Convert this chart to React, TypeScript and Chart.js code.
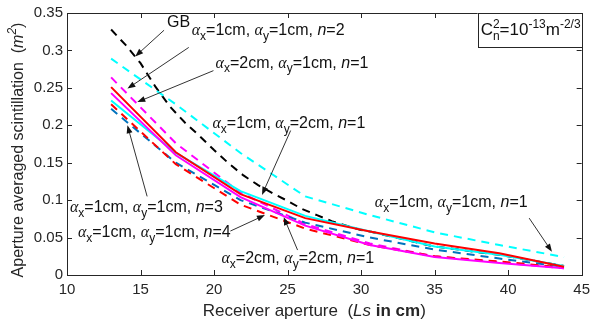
import React, { useEffect, useRef } from 'react';
import { Chart, registerables } from 'chart.js';

Chart.register(...registerables);

// Receiver aperture Ls (cm)
const lsSim = [13, 17.4, 21.8, 26.2, 30.6, 35, 39.4, 43.8];
const lsGB = [13, 14, 15, 16, 17, 18, 19, 20, 21, 22, 23, 24, 25, 26, 27, 28, 29, 30, 30.6, 35, 39.4, 43.8];

// Aperture averaged scintillation values
const gbVals = [0.328, 0.307, 0.283, 0.252, 0.225, 0.204, 0.186, 0.167, 0.149, 0.133, 0.12, 0.109, 0.099, 0.088, 0.08, 0.072, 0.066, 0.06, 0.058, 0.038, 0.027, 0.012];
const a1a1n1 = [0.289, 0.228, 0.163, 0.105, 0.08, 0.057, 0.04, 0.024];
const a1a1n2 = [0.264, 0.176, 0.11, 0.068, 0.042, 0.025, 0.017, 0.009];
const a2a1n1 = [0.251, 0.164, 0.108, 0.076, 0.058, 0.042, 0.029, 0.011];
const a1a2n1 = [0.233, 0.163, 0.112, 0.079, 0.058, 0.038, 0.027, 0.012];
const a2a2n1 = [0.243, 0.16, 0.104, 0.066, 0.04, 0.024, 0.016, 0.009];
const a1a1n3 = [0.222, 0.15, 0.1, 0.07, 0.05, 0.034, 0.022, 0.011];
const a1a1n4 = [0.228, 0.148, 0.094, 0.062, 0.04, 0.025, 0.018, 0.01];

const xTicks = [10, 15, 20, 25, 30, 35, 40, 45];
const yTicks = [0, 0.05, 0.1, 0.15, 0.2, 0.25, 0.3, 0.35];

const FONT = '"Liberation Sans", Arial, sans-serif';
const INK = '#262626';

type Run = { t: string; k?: string; t2?: string };

const lab = (ax: string, ay: string, n: string): Run[] => [
  { t: 'α', k: 'g' }, { t: 'x', k: 'sub' }, { t: '=' + ax + 'cm, ' },
  { t: 'α', k: 'g' }, { t: 'y', k: 'sub' }, { t: '=' + ay + 'cm, ' },
  { t: 'n', k: 'i' }, { t: '=' + n },
];

// annotation text anchors (left, baseline) and arrows, in data units
const notes: { x: number; y: number; runs: Run[]; ax?: number[] }[] = [
  { x: 16.8, y: 0.331, runs: [{ t: 'GB' }], ax: [16.6, 0.327, 14.64, 0.292] },
  { x: 18.48, y: 0.32, runs: lab('1', '1', '2'), ax: [18.28, 0.304, 14.11, 0.249] },
  { x: 20.1, y: 0.277, runs: lab('2', '1', '1'), ax: [19.96, 0.273, 14.78, 0.231] },
  { x: 19.89, y: 0.196, runs: lab('1', '2', '1'), ax: [25.21, 0.193, 23.26, 0.107] },
  { x: 30.93, y: 0.091, runs: lab('1', '1', '1'), ax: [41.43, 0.076, 42.98, 0.031] },
  { x: 10.2, y: 0.084, runs: lab('1', '1', '3'), ax: [15.45, 0.105, 14.11, 0.2] },
  { x: 10.74, y: 0.0507, runs: lab('1', '1', '4'), ax: [21.11, 0.0587, 23.46, 0.08] },
  { x: 20.5, y: 0.016, runs: lab('2', '2', '1'), ax: [25.68, 0.0333, 24.74, 0.0773] },
];

function fontFor(k: string | undefined, size: number) {
  const sub = Math.round(size * 0.72);
  switch (k) {
    case 'g': return { font: `italic ${size}px "Liberation Serif", serif`, dy: 0 };
    case 'i': return { font: `italic ${size}px ${FONT}`, dy: 0 };
    case 'b': return { font: `bold ${size}px ${FONT}`, dy: 0 };
    case 'sub': return { font: `${sub}px ${FONT}`, dy: size * 0.3 };
    case 'sup': return { font: `${sub}px ${FONT}`, dy: -size * 0.42 };
    case 'isup': return { font: `italic ${sub}px ${FONT}`, dy: -size * 0.42 };
    default: return { font: `${size}px ${FONT}`, dy: 0 };
  }
}

function runsWidth(ctx: CanvasRenderingContext2D, runs: Run[], size: number) {
  let w = 0;
  for (const r of runs) {
    if (r.k === 'stack') {
      ctx.font = `${Math.round(size * 0.72)}px ${FONT}`;
      w += Math.max(ctx.measureText(r.t).width, ctx.measureText(r.t2 || '').width);
    } else {
      ctx.font = fontFor(r.k, size).font;
      w += ctx.measureText(r.t).width;
    }
  }
  return w;
}

function drawRuns(ctx: CanvasRenderingContext2D, x: number, y: number, runs: Run[], size: number) {
  let cx = x;
  ctx.textBaseline = 'alphabetic';
  ctx.textAlign = 'left';
  for (const r of runs) {
    if (r.k === 'stack') {
      ctx.font = `${Math.round(size * 0.72)}px ${FONT}`;
      ctx.fillText(r.t, cx, y - size * 0.42);
      ctx.fillText(r.t2 || '', cx, y + size * 0.3);
      cx += Math.max(ctx.measureText(r.t).width, ctx.measureText(r.t2 || '').width);
    } else {
      const f = fontFor(r.k, size);
      ctx.font = f.font;
      ctx.fillText(r.t, cx, y + f.dy);
      cx += ctx.measureText(r.t).width;
    }
  }
}

function arrow(ctx: CanvasRenderingContext2D, x1: number, y1: number, x2: number, y2: number) {
  const a = Math.atan2(y2 - y1, x2 - x1);
  const L = 8, H = 3;
  ctx.strokeStyle = '#333';
  ctx.lineWidth = 1;
  ctx.setLineDash([]);
  ctx.beginPath();
  ctx.moveTo(x1, y1);
  ctx.lineTo(x2 - Math.cos(a) * L * 0.6, y2 - Math.sin(a) * L * 0.6);
  ctx.stroke();
  ctx.fillStyle = '#111';
  ctx.beginPath();
  ctx.moveTo(x2, y2);
  ctx.lineTo(x2 - L * Math.cos(a) + H * Math.sin(a), y2 - L * Math.sin(a) - H * Math.cos(a));
  ctx.lineTo(x2 - L * Math.cos(a) - H * Math.sin(a), y2 - L * Math.sin(a) + H * Math.cos(a));
  ctx.closePath();
  ctx.fill();
}

const decor = {
  id: 'decor',
  afterDraw(chart: any) {
    const { ctx, chartArea: ca, scales } = chart;
    const xs = scales.x, ys = scales.y;
    ctx.save();
    // box
    ctx.strokeStyle = INK;
    ctx.lineWidth = 1;
    ctx.setLineDash([]);
    ctx.strokeRect(Math.round(ca.left) + 0.5, Math.round(ca.top) + 0.5, Math.round(ca.right - ca.left), Math.round(ca.bottom - ca.top));
    // inward ticks
    ctx.beginPath();
    for (const v of xTicks) {
      const px = Math.round(xs.getPixelForValue(v)) + 0.5;
      ctx.moveTo(px, ca.bottom); ctx.lineTo(px, ca.bottom - 5);
      ctx.moveTo(px, ca.top); ctx.lineTo(px, ca.top + 5);
    }
    for (const v of yTicks) {
      const py = Math.round(ys.getPixelForValue(v)) + 0.5;
      ctx.moveTo(ca.left, py); ctx.lineTo(ca.left + 5, py);
      ctx.moveTo(ca.right, py); ctx.lineTo(ca.right - 5, py);
    }
    ctx.stroke();

    // annotations
    for (const n of notes) {
      if (n.ax) {
        arrow(ctx, xs.getPixelForValue(n.ax[0]), ys.getPixelForValue(n.ax[1]), xs.getPixelForValue(n.ax[2]), ys.getPixelForValue(n.ax[3]));
      }
    }
    ctx.fillStyle = '#111';
    for (const n of notes) {
      drawRuns(ctx, xs.getPixelForValue(n.x), ys.getPixelForValue(n.y), n.runs, 16);
    }

    // Cn2 box
    const boxRuns: Run[] = [{ t: 'C' }, { t: '2', k: 'stack', t2: 'n' }, { t: '=10' }, { t: '-13', k: 'sup' }, { t: 'm' }, { t: '-2/3', k: 'sup' }];
    const bw = 104, bh = 34;
    const bx = ca.right - bw, by = ca.top;
    ctx.fillStyle = '#fff';
    ctx.fillRect(bx, by, bw, bh);
    ctx.strokeStyle = INK;
    ctx.strokeRect(Math.round(bx) + 0.5, Math.round(by) + 0.5, bw, bh);
    ctx.fillStyle = '#111';
    drawRuns(ctx, bx + 3, by + 22, boxRuns, 17);

    // axis titles
    ctx.fillStyle = INK;
    const xt: Run[] = [{ t: 'Receiver aperture  (' }, { t: 'Ls', k: 'i' }, { t: ' in cm', k: 'b' }, { t: ')' }];
    const wx = runsWidth(ctx, xt, 17);
    drawRuns(ctx, (ca.left + ca.right) / 2 - wx / 2 - 10, 316, xt, 17);

    const yt: Run[] = [{ t: 'Aperture averaged scintillation  (' }, { t: 'm', k: 'i' }, { t: '2', k: 'isup' }, { t: ')' }];
    const wy = runsWidth(ctx, yt, 16);
    ctx.translate(23, (ca.top + ca.bottom) / 2 + 6);
    ctx.rotate(-Math.PI / 2);
    drawRuns(ctx, -wy / 2, 0, yt, 16);
    ctx.restore();
  },
};

const pts = (xs: number[], ys: number[]) => xs.map((x, i) => ({ x, y: ys[i] }));

export default function App() {
  const ref = useRef<HTMLCanvasElement>(null);
  useEffect(() => {
    document.body.style.margin = '0';
    const line = (label: string, xs: number[], ys: number[], color: string, dashed: boolean) => ({
      label, data: pts(xs, ys), borderColor: color, backgroundColor: color,
      borderWidth: 2, pointRadius: 0, borderDash: dashed ? [8, 6] : [], fill: false, tension: 0,
    });
    const chart = new Chart(ref.current as HTMLCanvasElement, {
      type: 'line',
      data: {
        datasets: [
          line('αx=2cm, αy=1cm, n=1', lsSim, a2a1n1, '#ff0000', false),
          line('αx=2cm, αy=2cm, n=1', lsSim, a2a2n1, '#ff00ff', false),
          line('αx=1cm, αy=2cm, n=1', lsSim, a1a2n1, '#00ffff', false),
          line('αx=1cm, αy=1cm, n=4', lsSim, a1a1n4, '#ff0000', true),
          line('αx=1cm, αy=1cm, n=3', lsSim, a1a1n3, '#0072bd', true),
          line('αx=1cm, αy=1cm, n=2', lsSim, a1a1n2, '#ff00ff', true),
          line('αx=1cm, αy=1cm, n=1', lsSim, a1a1n1, '#00ffff', true),
          line('GB', lsGB, gbVals, '#000000', true),
        ],
      },
      options: {
        animation: false,
        responsive: true,
        maintainAspectRatio: false,
        layout: { padding: { top: 13, right: 9, left: 0, bottom: 0 } },
        plugins: { legend: { display: false }, tooltip: { enabled: false }, title: { display: false } },
        scales: {
          x: {
            type: 'linear', min: 10, max: 45,
            afterFit: (s: any) => { s.height = 50; },
            afterBuildTicks: (s: any) => { s.ticks = xTicks.map((v) => ({ value: v })); },
            grid: { display: false, drawTicks: false },
            border: { display: false },
            ticks: { padding: 6, color: INK, font: { family: FONT, size: 15 }, maxRotation: 0, autoSkip: false },
          },
          y: {
            type: 'linear', min: 0, max: 0.35,
            afterFit: (s: any) => { s.width = 67; },
            afterBuildTicks: (s: any) => { s.ticks = yTicks.map((v) => ({ value: v })); },
            grid: { display: false, drawTicks: false },
            border: { display: false },
            ticks: {
              padding: 4, color: INK, font: { family: FONT, size: 15 }, autoSkip: false,
              callback: (v: any) => String(Math.round(Number(v) * 100) / 100),
            },
          },
        },
      },
      plugins: [decor],
    } as any);
    return () => chart.destroy();
  }, []);
  return (
    <div style={{ width: 596, height: 325, position: 'relative', background: '#fff' }}>
      <canvas ref={ref} />
    </div>
  );
}
